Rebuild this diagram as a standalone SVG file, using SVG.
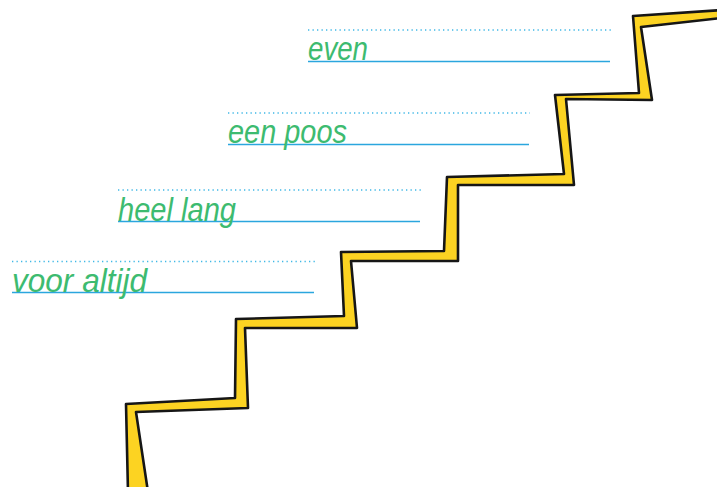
<svg xmlns="http://www.w3.org/2000/svg" width="717" height="487" viewBox="0 0 717 487">
<style>
.dot{stroke:#3fb8e6;stroke-width:1.6;stroke-dasharray:1.3 3.2;fill:none}
.line{stroke:#2ba6de;stroke-width:1.7;fill:none}
.lbl{font-family:"Liberation Sans","DejaVu Sans",sans-serif;font-style:italic;font-size:33px;fill:#3dbb70}
.stair{fill:#fcd322;stroke:#161616;stroke-width:2.6;stroke-linejoin:round}
</style>
<rect width="717" height="487" fill="#ffffff"/>
<g id="stairs">
<polygon class="stair" points="128,492 126,404 235,398 236,319 344,316 341,252 444,251 447,177 564,174 555,95 639,93 633,16 722,10 722,18 641,27 652,100 566,99 574,185 458,185 458,261 351,261 357,328 245,328 248,408 136,412 148,492"/>
</g>
<g id="row-even">
<line class="dot" x1="308" y1="30" x2="611" y2="30"/>
<line class="line" x1="308" y1="61.5" x2="610" y2="61.5"/>
<text class="lbl" x="308" y="60" textLength="60" lengthAdjust="spacingAndGlyphs">even</text>
</g>
<g id="row-een-poos">
<line class="dot" x1="228" y1="113" x2="530" y2="113"/>
<line class="line" x1="228" y1="144.5" x2="529" y2="144.5"/>
<text class="lbl" x="228" y="143" textLength="119" lengthAdjust="spacingAndGlyphs">een poos</text>
</g>
<g id="row-heel-lang">
<line class="dot" x1="118" y1="190" x2="421" y2="190"/>
<line class="line" x1="118" y1="221.5" x2="420" y2="221.5"/>
<text class="lbl" x="118" y="221" textLength="118" lengthAdjust="spacingAndGlyphs">heel lang</text>
</g>
<g id="row-voor-altijd">
<line class="dot" x1="12" y1="261.5" x2="315" y2="261.5"/>
<line class="line" x1="12" y1="292.5" x2="314" y2="292.5"/>
<text class="lbl" x="12" y="292" textLength="135" lengthAdjust="spacingAndGlyphs">voor altijd</text>
</g>
</svg>
